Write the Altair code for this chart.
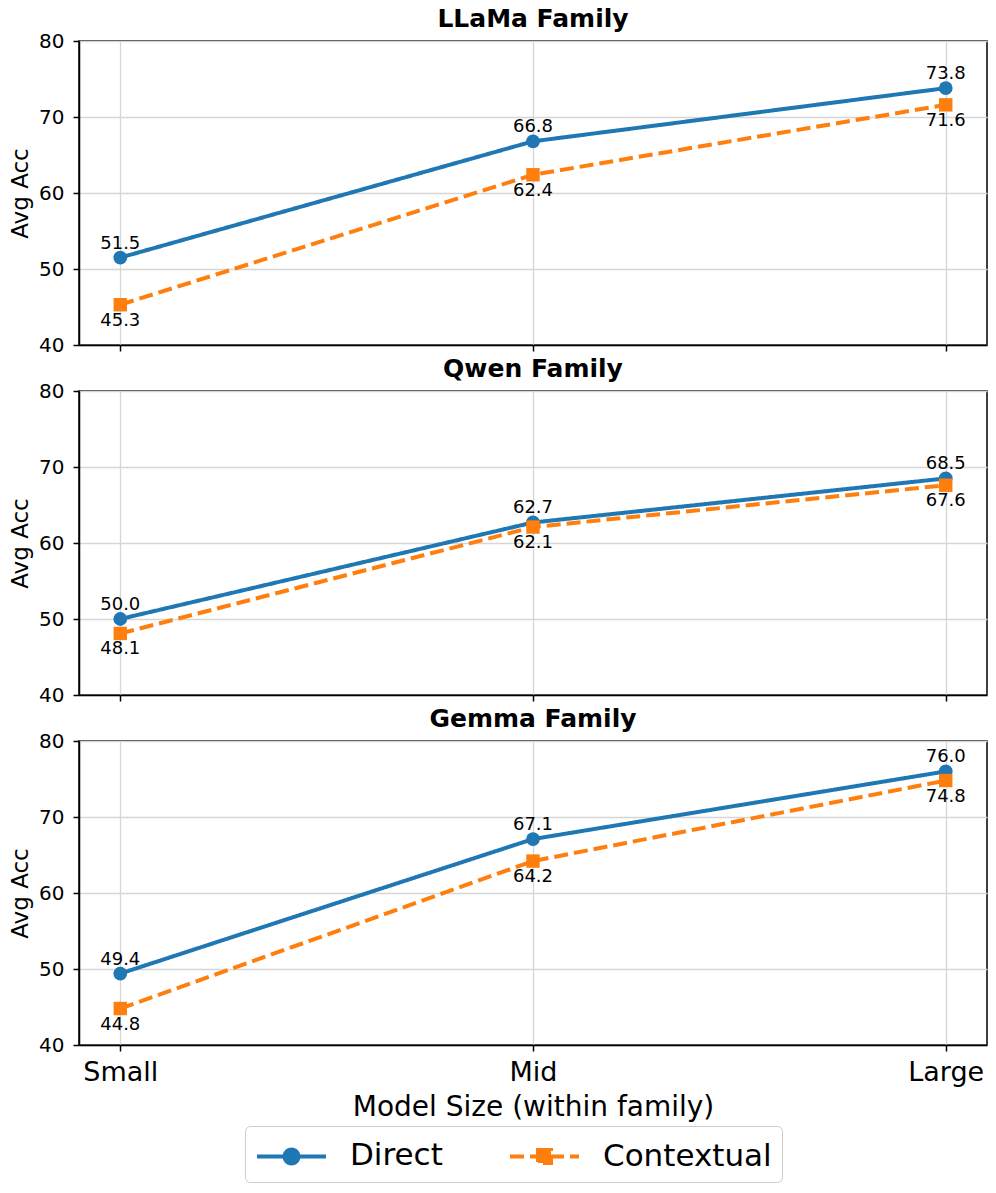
import math
import altair as alt
import pandas as pd

families = ["LLaMa Family", "Qwen Family", "Gemma Family"]
sizes = ["Small", "Mid", "Large"]
series_names = ["Direct", "Contextual"]
direct_vals = {
    "LLaMa Family": [51.5, 66.8, 73.8],
    "Qwen Family": [50.0, 62.7, 68.5],
    "Gemma Family": [49.4, 67.1, 76.0],
}
contextual_vals = {
    "LLaMa Family": [45.3, 62.4, 71.6],
    "Qwen Family": [48.1, 62.1, 67.6],
    "Gemma Family": [44.8, 64.2, 74.8],
}
y_ticks = [40, 50, 60, 70, 80]
colors = ["#1f77b4", "#ff7f0e"]

rows = []
for fam in families:
    for s, v in zip(sizes, direct_vals[fam]):
        rows.append({"family": fam, "size": s, "series": "Direct", "value": v})
    for s, v in zip(sizes, contextual_vals[fam]):
        rows.append({"family": fam, "size": s, "series": "Contextual", "value": v})
df = pd.DataFrame(rows)

FONT = "DejaVu Sans"

# legend glyphs (line with a marker in its middle), in symbol units of 18 px
U = 18.0
x0, x1 = -18.0 / U, 51.0 / U
cx = (x0 + x1) / 2
rc = 7.0 / U
hs = 6.5 / U
circle_pts = "".join(
    f"{'M' if i == 0 else 'L'}{cx + rc * math.cos(2 * math.pi * i / 24):.3f},{rc * math.sin(2 * math.pi * i / 24):.3f}"
    for i in range(24)
)
direct_glyph = f"M{x0:.3f},0H{x1:.3f}" + circle_pts + "Z"
ctx_glyph = (
    f"M{x0:.3f},0H{x1:.3f}"
    f"M{cx - hs:.3f},{-hs:.3f}H{cx + hs:.3f}V{hs:.3f}H{cx - hs:.3f}Z"
)

color_scale = alt.Scale(domain=series_names, range=colors)
dash_scale = alt.Scale(domain=series_names, range=[[1, 0], [14, 6]])
shape_scale = alt.Scale(domain=series_names, range=[direct_glyph, ctx_glyph])

legend = alt.Legend(
    title=None,
    orient="none",
    legendX=166,
    legendY=385,
    direction="horizontal",
    labelFont=FONT,
    labelFontSize=31,
    labelColor="black",
    labelLimit=0,
    labelOffset=55,
    columnPadding=59,
    symbolSize=(2 * U) ** 2,
    symbolStrokeWidth=4,
    symbolOpacity=1,
    padding=10,
    fillColor="white",
    strokeColor="#cccccc",
    cornerRadius=5,
)


def panel(fam, bottom):
    d = df[df["family"] == fam]
    base = alt.Chart(d)
    leg = legend if bottom else None
    if bottom:
        xaxis = alt.Axis(
            title="Model Size (within family)",
            labelAngle=0,
            labelFontSize=27,
            titleFontSize=28,
            titleFontWeight="normal",
            labelPadding=8,
            titlePadding=8,
        )
    else:
        xaxis = alt.Axis(title=None, labels=False)
    x = alt.X(
        "size:N",
        sort=sizes,
        scale=alt.Scale(type="point", padding=0.1),
        axis=xaxis,
    )
    y = alt.Y(
        "value:Q",
        scale=alt.Scale(domain=[40, 80], nice=False),
        axis=alt.Axis(
            title="Avg Acc",
            values=y_ticks,
            labelFontSize=20,
            titleFontSize=23,
            titleFontWeight="normal",
            labelPadding=9,
            titlePadding=6,
        ),
    )
    color = alt.Color("series:N", scale=color_scale, legend=leg)
    lines = base.mark_line(strokeWidth=4).encode(
        x=x,
        y=y,
        color=color,
        strokeDash=alt.StrokeDash("series:N", scale=dash_scale, legend=leg),
        detail="series:N",
    )
    pts_direct = base.transform_filter(alt.datum.series == "Direct").mark_point(
        shape="circle", filled=True, size=190, opacity=1
    ).encode(x=x, y=y, color=color)
    pts_ctx = base.transform_filter(alt.datum.series == "Contextual").mark_point(
        shape="square", filled=True, size=180, opacity=1
    ).encode(x=x, y=y, color=color)
    txt_above = base.transform_filter(alt.datum.series == "Direct").mark_text(
        fontSize=18, font=FONT, color="black", align="center", baseline="alphabetic", dy=-9
    ).encode(x=x, y=y, text=alt.Text("value:Q", format=".1f"))
    txt_below = base.transform_filter(alt.datum.series == "Contextual").mark_text(
        fontSize=18, font=FONT, color="black", align="center", baseline="alphabetic", dy=21
    ).encode(x=x, y=y, text=alt.Text("value:Q", format=".1f"))
    layers = [lines, pts_direct, pts_ctx, txt_above, txt_below]
    if bottom:
        legend_layer = base.mark_point(filled=True, opacity=0, size=10).encode(
            x=x,
            y=y,
            color=color,
            shape=alt.Shape("series:N", scale=shape_scale, legend=legend),
            strokeDash=alt.StrokeDash("series:N", scale=dash_scale, legend=legend),
        )
        layers.append(legend_layer)
    return alt.layer(*layers).properties(
        width=908,
        height=304,
        title=alt.Title(
            fam, fontSize=25, fontWeight="bold", font=FONT, anchor="middle",
            baseline="alphabetic", offset=-21, color="black",
        ),
    )


chart = alt.vconcat(
    panel(families[0], False),
    panel(families[1], False),
    panel(families[2], True),
    spacing=0,
).resolve_legend(
    color="independent", shape="independent", strokeDash="independent"
).properties(
    padding={"top": -2, "left": 0, "right": 0, "bottom": 0},
).configure(
    font=FONT,
).configure_axis(
    labelFont=FONT,
    titleFont=FONT,
    labelColor="black",
    titleColor="black",
    domainColor="black",
    domainWidth=1.5,
    tickColor="black",
    tickWidth=1.5,
    tickSize=6,
    gridColor="#d6d6d6",
    gridWidth=1.3,
    grid=True,
).configure_view(
    stroke="black",
    strokeWidth=1.5,
)

chart.save("out.html", embed_options={"renderer": "svg", "actions": False})
